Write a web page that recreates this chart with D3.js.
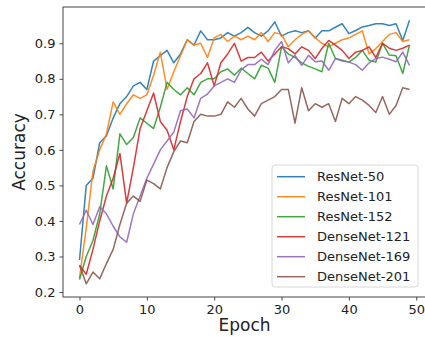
<!DOCTYPE html>
<html>
<head>
<meta charset="utf-8">
<script src="https://cdn.jsdelivr.net/npm/d3@7"></script>
<style>
  body { margin: 0; background: #fff; }
  svg { display: block; font-family: "DejaVu Sans", sans-serif; }
</style>
</head>
<body>
<svg id="chart" width="425" height="337"></svg>
<script>
const seriesNames = ['ResNet-50', 'ResNet-101', 'ResNet-152', 'DenseNet-121', 'DenseNet-169', 'DenseNet-201'];
const seriesColors = ['#1f77b4', '#ff7f0e', '#2ca02c', '#d62728', '#9467bd', '#8c564b'];
const xTicks = [0, 10, 20, 30, 40, 50];
const yTicks = [0.2, 0.3, 0.4, 0.5, 0.6, 0.7, 0.8, 0.9];

const resnet50 = [0.29, 0.50, 0.52, 0.62, 0.64, 0.69, 0.73, 0.75, 0.78, 0.79,
  0.77, 0.85, 0.865, 0.88, 0.845, 0.87, 0.91, 0.895, 0.935, 0.91,
  0.91, 0.915, 0.93, 0.92, 0.93, 0.945, 0.93, 0.92, 0.935, 0.96,
  0.92, 0.93, 0.935, 0.93, 0.935, 0.915, 0.935, 0.935, 0.945, 0.955,
  0.927, 0.936, 0.946, 0.95, 0.955, 0.955, 0.95, 0.955, 0.908, 0.965];
const resnet101 = [0.24, 0.38, 0.54, 0.60, 0.645, 0.735, 0.70, 0.73, 0.755, 0.745,
  0.755, 0.81, 0.875, 0.77, 0.82, 0.865, 0.91, 0.895, 0.90, 0.86,
  0.915, 0.925, 0.905, 0.92, 0.91, 0.92, 0.91, 0.93, 0.905, 0.93,
  0.925, 0.89, 0.91, 0.925, 0.935, 0.915, 0.90, 0.89, 0.90, 0.91,
  0.915, 0.925, 0.935, 0.87, 0.885, 0.905, 0.925, 0.93, 0.905, 0.91];
const resnet152 = [0.235, 0.30, 0.345, 0.42, 0.555, 0.49, 0.645, 0.615, 0.635, 0.69,
  0.675, 0.66, 0.72, 0.79, 0.77, 0.755, 0.775, 0.755, 0.79, 0.80,
  0.80, 0.82, 0.828, 0.81, 0.83, 0.815, 0.80, 0.838, 0.83, 0.79,
  0.89, 0.87, 0.86, 0.845, 0.835, 0.828, 0.82, 0.90, 0.857, 0.852,
  0.847, 0.86, 0.88, 0.852, 0.847, 0.90, 0.867, 0.865, 0.815, 0.895];
const densenet121 = [0.275, 0.25, 0.32, 0.40, 0.47, 0.52, 0.59, 0.45, 0.55, 0.66,
  0.71, 0.76, 0.68, 0.655, 0.60, 0.68, 0.75, 0.80, 0.815, 0.845,
  0.78, 0.845, 0.87, 0.90, 0.85, 0.86, 0.86, 0.875, 0.85, 0.87,
  0.89, 0.885, 0.87, 0.89, 0.88, 0.857, 0.886, 0.908, 0.895, 0.88,
  0.857, 0.875, 0.88, 0.89, 0.86, 0.90, 0.886, 0.88, 0.886, 0.895];
const densenet169 = [0.39, 0.43, 0.39, 0.44, 0.42, 0.385, 0.355, 0.34, 0.42, 0.47,
  0.52, 0.56, 0.60, 0.625, 0.65, 0.71, 0.715, 0.69, 0.745, 0.757,
  0.78, 0.79, 0.80, 0.79, 0.825, 0.84, 0.84, 0.855, 0.84, 0.88,
  0.905, 0.845, 0.866, 0.838, 0.866, 0.848, 0.85, 0.824, 0.857, 0.85,
  0.847, 0.84, 0.824, 0.845, 0.857, 0.861, 0.855, 0.848, 0.875, 0.838];
const densenet201 = [0.275, 0.223, 0.256, 0.237, 0.28, 0.32, 0.39, 0.45, 0.47, 0.455,
  0.515, 0.505, 0.49, 0.55, 0.595, 0.625, 0.62, 0.68, 0.70, 0.695,
  0.695, 0.70, 0.735, 0.72, 0.745, 0.715, 0.695, 0.73, 0.74, 0.75,
  0.77, 0.77, 0.675, 0.775, 0.71, 0.73, 0.72, 0.73, 0.68, 0.745,
  0.73, 0.75, 0.74, 0.725, 0.705, 0.75, 0.70, 0.725, 0.775, 0.77];

const seriesValues = [resnet50, resnet101, resnet152, densenet121, densenet169, densenet201];

// plot area (right edge runs slightly past the window, like the source image)
const margin = { top: 7, left: 63 };
const plotRight = 426;
const plotBottom = 297;

const svg = d3.select('#chart');

// matplotlib-style 5% padding around the data
const nEpochs = resnet50.length;
const xPad = (nEpochs - 1) * 0.05;
const allVals = seriesValues.flat();
const yMin = d3.min(allVals), yMax = d3.max(allVals);
const yPad = (yMax - yMin) * 0.05;

const xScale = d3.scaleLinear()
  .domain([-xPad, nEpochs - 1 + xPad])
  .range([margin.left, plotRight]);
const yScale = d3.scaleLinear()
  .domain([yMin - yPad, yMax + yPad])
  .range([plotBottom, margin.top]);

// Lines
const line = d3.line()
  .x((d, i) => xScale(i))
  .y(d => yScale(d));

svg.append('g')
  .selectAll('path')
  .data(seriesValues)
  .join('path')
  .attr('d', d => line(d))
  .attr('fill', 'none')
  .attr('stroke', (d, i) => seriesColors[i])
  .attr('stroke-width', 1.5)
  .attr('stroke-linejoin', 'round')
  .attr('opacity', 0.9);

// Axes
const xAxis = d3.axisBottom(xScale).tickValues(xTicks).tickSize(3.5).tickPadding(4);
const yAxis = d3.axisLeft(yScale).tickValues(yTicks).tickSize(3.5).tickPadding(4)
  .tickFormat(d3.format('.1f'));

const xAxisG = svg.append('g')
  .attr('transform', `translate(0,${plotBottom})`)
  .call(xAxis);
const yAxisG = svg.append('g')
  .attr('transform', `translate(${margin.left},0)`)
  .call(yAxis);

[xAxisG, yAxisG].forEach(g => {
  g.select('.domain').remove();
  g.selectAll('.tick line').attr('stroke', '#333').attr('stroke-width', 0.9);
  g.selectAll('.tick text')
    .attr('fill', '#222')
    .style('font-size', '13px')
    .style('font-family', '"DejaVu Sans", sans-serif');
});

// Spines
svg.append('rect')
  .attr('x', margin.left)
  .attr('y', margin.top)
  .attr('width', plotRight - margin.left)
  .attr('height', plotBottom - margin.top)
  .attr('fill', 'none')
  .attr('stroke', '#444')
  .attr('stroke-width', 1);

// Axis titles
svg.append('text')
  .attr('x', (margin.left + plotRight) / 2)
  .attr('y', 331)
  .attr('text-anchor', 'middle')
  .attr('fill', '#222')
  .style('font-size', '17px')
  .text('Epoch');

svg.append('text')
  .attr('transform', `translate(25,${(margin.top + plotBottom) / 2}) rotate(-90)`)
  .attr('text-anchor', 'middle')
  .attr('fill', '#222')
  .style('font-size', '17px')
  .text('Accuracy');

// Legend
const legend = svg.append('g').attr('transform', 'translate(272,165)');
legend.append('rect')
  .attr('width', 146)
  .attr('height', 122)
  .attr('rx', 3)
  .attr('fill', '#fff')
  .attr('fill-opacity', 0.85)
  .attr('stroke', '#d8d8d8')
  .attr('stroke-width', 1);

const items = legend.selectAll('g.item')
  .data(seriesNames)
  .join('g')
  .attr('class', 'item')
  .attr('transform', (d, i) => `translate(0,${11.7 + i * 20})`);

items.append('line')
  .attr('x1', 5)
  .attr('x2', 33)
  .attr('stroke', (d, i) => seriesColors[i])
  .attr('stroke-width', 1.5)
  .attr('opacity', 0.9);

items.append('text')
  .attr('x', 45)
  .attr('dy', '0.35em')
  .attr('fill', '#222')
  .style('font-size', '13px')
  .text(d => d);
</script>
</body>
</html>
